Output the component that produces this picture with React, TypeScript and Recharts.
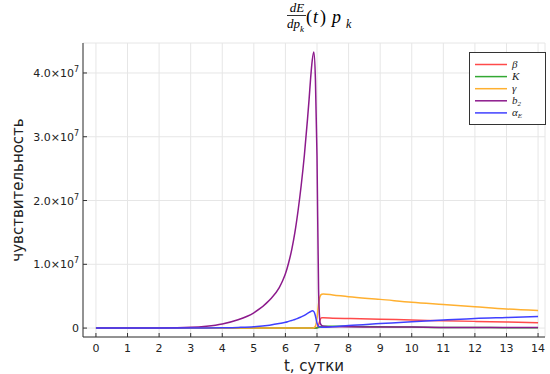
import { LineChart, Line, XAxis, YAxis, CartesianGrid, Label } from "recharts";

// time in days
const times = [
  0, 1, 2, 3, 3.5, 4, 4.5, 5, 5.5, 5.8, 5.9, 6.0, 6.1, 6.2, 6.3, 6.4, 6.5, 6.6, 6.7, 6.75,
  6.8, 6.85, 6.9, 6.95, 7.0, 7.05, 7.1, 7.15, 7.2, 7.5, 8, 9, 10, 11, 12, 13, 14,
];

// sensitivities, in units of 1e6
const betaM = [
  0, 0, 0, 0, 0, 0, 0, 0, 0, 0, 0, 0, 0, 0, 0, 0, 0, 0, 0, 0,
  0, 0, 0, 0, 0.05, 0.5, 1.3, 1.6, 1.6, 1.55, 1.5, 1.4, 1.25, 1.15, 1.05, 0.95, 0.85,
];
const kM = [
  0, 0, 0, 0, 0, 0, 0, 0, 0, 0, 0, 0, 0, 0, 0, 0, 0, 0, 0, 0,
  0, 0, 0, 0, 0, 0.1, 0.2, 0.25, 0.3, 0.3, 0.25, 0.2, 0.15, 0.1, 0.1, 0.05, 0.05,
];
const gammaM = [
  0, 0, 0, 0, 0, 0, 0, 0, 0, 0, 0, 0, 0, 0, 0, 0, 0, 0, 0, 0,
  0, 0, 0.05, 0.3, 1.5, 3.8, 5.0, 5.3, 5.35, 5.2, 4.9, 4.5, 4.05, 3.7, 3.35, 3.0, 2.75,
];
const b2M = [
  0, 0, 0.02, 0.12, 0.3, 0.65, 1.3, 2.4, 4.4, 6.3, 7.3, 8.5, 10.2, 12.3, 15, 18.4, 22.4, 27.1, 32.8, 35.9,
  39.3, 42, 43.3, 39, 27, 6, 0.8, 0.4, 0.3, 0.2, 0.2, 0.15, 0.15, 0.1, 0.1, 0.1, 0.1,
];
const alphaEM = [
  0, 0, 0, 0, 0.02, 0.05, 0.1, 0.2, 0.45, 0.7, 0.8, 0.9, 1.05, 1.2, 1.35, 1.55, 1.75, 2.0, 2.3, 2.45,
  2.6, 2.7, 2.6, 1.9, 0.8, 0.3, 0.15, 0.12, 0.12, 0.2, 0.4, 0.7, 1.0, 1.25, 1.5, 1.65, 1.8,
];

const xTicks = [0, 1, 2, 3, 4, 5, 6, 7, 8, 9, 10, 11, 12, 13, 14];
const yTicks = [0, 1e7, 2e7, 3e7, 4e7];

const series = [
  { key: "beta", color: "#ff4a4a", label: "β", sub: "" },
  { key: "K", color: "#33a833", label: "K", sub: "" },
  { key: "gamma", color: "#ffb030", label: "γ", sub: "" },
  { key: "b2", color: "#8c1a8c", label: "b", sub: "2" },
  { key: "alphaE", color: "#4040ff", label: "α", sub: "E" },
];

const data = times.map((t, i) => ({
  t,
  beta: betaM[i] * 1e6,
  K: kM[i] * 1e6,
  gamma: gammaM[i] * 1e6,
  b2: b2M[i] * 1e6,
  alphaE: alphaEM[i] * 1e6,
}));

const font = "DejaVu Sans, sans-serif";
const mathFont = "Liberation Serif, DejaVu Serif, serif";

const YTick = ({ x, y, payload }: any) => {
  const v = payload.value;
  if (v === 0) {
    return (
      <text x={x} y={y} dy={4} textAnchor="end" fontSize={11} fontFamily={font} fill="#222">
        0
      </text>
    );
  }
  return (
    <text x={x} y={y} dy={4} textAnchor="end" fontSize={11} fontFamily={font} fill="#222">
      {(v / 1e7).toFixed(1)}×10
      <tspan dy={-5} fontSize={8}>7</tspan>
    </text>
  );
};

const Title = () => (
  <svg width={550} height={40} style={{ position: "absolute", left: 0, top: 0 }}>
    <g fontFamily={mathFont} fontStyle="italic" fill="#000">
      <text x={297} y={12} fontSize={13} textAnchor="middle">dE</text>
      <line x1={287} x2={306} y1={15.5} y2={15.5} stroke="#000" strokeWidth={0.8} />
      <text x={287} y={28} fontSize={13}>dp</text>
      <text x={300} y={32} fontSize={9}>k</text>
      <text x={306} y={23} fontSize={18} fontStyle="normal">(</text>
      <text x={313} y={23} fontSize={18}>t</text>
      <text x={320} y={23} fontSize={18} fontStyle="normal">)</text>
      <text x={332} y={23} fontSize={18}>p</text>
      <text x={346} y={28} fontSize={12}>k</text>
    </g>
  </svg>
);

const LegendBox = () => (
  <svg width={78} height={74} style={{ position: "absolute", left: 469, top: 52 }}>
    <rect x={0.5} y={0.5} width={76} height={72} fill="#fff" stroke="#333" strokeWidth={1} />
    {series.map((s, i) => {
      const cy = 12.5 + i * 12.1;
      return (
        <g key={s.key}>
          <line x1={6} x2={38} y1={cy} y2={cy} stroke={s.color} strokeWidth={1.5} />
          <text x={43} y={cy + 3.5} fontSize={11} fontFamily={mathFont} fontStyle="italic" fill="#222">
            {s.label}
            {s.sub && (
              <tspan dy={2} fontSize={7}>
                {s.sub}
              </tspan>
            )}
          </text>
        </g>
      );
    })}
  </svg>
);

export default function App() {
  return (
    <div style={{ position: "absolute", left: 0, top: 0, width: 550, height: 374, background: "#fff" }}>
      <LineChart width={550} height={374} data={data} margin={{ top: 43, right: 5, left: 0, bottom: 0 }}>
        <CartesianGrid stroke="#e6e6e6" strokeWidth={1} />
        <XAxis
          dataKey="t"
          type="number"
          domain={[-0.41, 14.22]}
          ticks={xTicks}
          allowDataOverflow
          height={37}
          tickSize={-4}
          tickMargin={11}
          stroke="#333"
          tick={{ fontSize: 11, fontFamily: font, fill: "#222" }}
          interval={0}
        >
          <Label
            value="t, сутки"
            position="insideBottom"
            offset={3}
            style={{ fontSize: 15, fontFamily: font, fill: "#222" }}
          />
        </XAxis>
        <YAxis
          type="number"
          domain={[-1.4e6, 4.47e7]}
          ticks={yTicks}
          allowDataOverflow
          width={83}
          tickSize={-4}
          tickMargin={8}
          stroke="#333"
          tick={<YTick />}
          interval={0}
        >
          <Label
            value="чувствительность"
            angle={-90}
            position="insideLeft"
            offset={18}
            style={{ fontSize: 15, fontFamily: font, fill: "#222", textAnchor: "middle" }}
          />
        </YAxis>
        {series.map((s) => (
          <Line
            key={s.key}
            type="monotone"
            dataKey={s.key}
            stroke={s.color}
            strokeWidth={1.5}
            dot={false}
            isAnimationActive={false}
          />
        ))}
      </LineChart>
      <Title />
      <LegendBox />
    </div>
  );
}
